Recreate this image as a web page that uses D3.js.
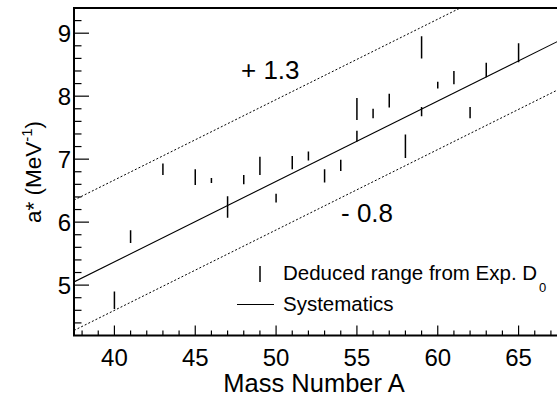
<!DOCTYPE html>
<html>
<head>
<meta charset="utf-8">
<script src="https://cdn.jsdelivr.net/npm/d3@7"></script>
<style>
    body { margin: 0; background: #fff; }
    text { font-family: "Liberation Sans", Arial, Helvetica, sans-serif; fill: #000; }
</style>
</head>
<body>
<div id="chart-area"></div>
<script>
// mass numbers and deduced a* ranges (MeV^-1)
const massA = [40, 41, 43, 45, 46, 47, 48, 49, 50, 51, 52, 53, 54, 55, 55, 56, 57, 58, 59, 59, 60, 61, 62, 63, 65];
const rangeLow = [4.62, 5.67, 6.75, 6.59, 6.62, 6.07, 6.60, 6.75, 6.31, 6.84, 6.98, 6.63, 6.81, 7.28, 7.62, 7.65, 7.82, 7.02, 7.68, 8.60, 8.12, 8.19, 7.65, 8.30, 8.54];
const rangeHigh = [4.90, 5.87, 6.93, 6.84, 6.70, 6.41, 6.75, 7.04, 6.45, 7.05, 7.12, 6.84, 6.99, 7.45, 7.97, 7.80, 8.04, 7.39, 7.83, 8.95, 8.23, 8.40, 7.83, 8.53, 8.84];

// systematics line end points and band offsets
const sysA = [37.5, 67.5];
const sysVal = [5.05, 8.88];
const upperOffset = 1.3;
const lowerOffset = -0.77;

const xTicks = [40, 45, 50, 55, 60, 65];
const yTicks = [5, 6, 7, 8, 9];

let margin = {top: 8, left: 74};
let width = 485, height = 327.5;

let svg = d3.select("#chart-area").append("svg")
    .attr("width", 557)
    .attr("height", 396);

let g = svg.append("g")
    .attr("transform", "translate(" + margin.left + "," + margin.top + ")");

let x = d3.scaleLinear().domain([37.5, 67.5]).range([0, width]);
let y = d3.scaleLinear().domain([4.2, 9.4]).range([height, 0]);

g.append("defs").append("clipPath")
    .attr("id", "clip")
    .append("rect")
    .attr("width", width)
    .attr("height", height);

let plot = g.append("g").attr("clip-path", "url(#clip)");

// systematics and band
let line = d3.line().x(d => x(d[0])).y(d => y(d[1]));
let sysPts = sysA.map((a, i) => [a, sysVal[i]]);

plot.append("path")
    .attr("d", line(sysPts))
    .attr("fill", "none")
    .attr("stroke", "#000")
    .attr("stroke-width", 1.1);

[upperOffset, lowerOffset].forEach(off => {
    plot.append("path")
        .attr("d", line(sysPts.map(p => [p[0], p[1] + off])))
        .attr("fill", "none")
        .attr("stroke", "#000")
        .attr("stroke-width", 1)
        .attr("stroke-dasharray", "2,2");
});

// deduced ranges
plot.selectAll(".range")
    .data(massA)
    .enter().append("line")
    .attr("class", "range")
    .attr("x1", d => x(d))
    .attr("x2", d => x(d))
    .attr("y1", (d, i) => y(rangeLow[i]))
    .attr("y2", (d, i) => y(rangeHigh[i]))
    .attr("stroke", "#000")
    .attr("stroke-width", 1.5);

// axes
let xMinor = d3.range(38, 68, 1);
let yMinor = d3.range(4.4, 9.41, 0.2);

g.append("g")
    .attr("transform", "translate(0," + height + ")")
    .selectAll("line")
    .data(xMinor)
    .enter().append("line")
    .attr("x1", d => x(d)).attr("x2", d => x(d))
    .attr("y1", 0)
    .attr("y2", d => d % 5 === 0 ? -10 : -5)
    .attr("stroke", "#000").attr("stroke-width", 1.2);

g.append("g")
    .selectAll("line")
    .data(yMinor)
    .enter().append("line")
    .attr("y1", d => y(d)).attr("y2", d => y(d))
    .attr("x1", 0)
    .attr("x2", d => Math.abs(d - Math.round(d)) < 0.01 ? 15 : 7.5)
    .attr("stroke", "#000").attr("stroke-width", 1.2);

// frame
g.append("path")
    .attr("d", "M" + x(67.5) + "," + y(9.4) + "H0V" + height + "H" + x(67.5))
    .attr("fill", "none")
    .attr("stroke", "#000")
    .attr("stroke-width", 2);

g.selectAll(".x-tick-label")
    .data(xTicks)
    .enter().append("text")
    .attr("class", "x-tick-label")
    .attr("x", d => x(d))
    .attr("y", height + 30)
    .attr("text-anchor", "middle")
    .style("font-size", "24px")
    .text(d => d);

g.selectAll(".y-tick-label")
    .data(yTicks)
    .enter().append("text")
    .attr("class", "y-tick-label")
    .attr("x", -3)
    .attr("y", d => y(d) + 8.5)
    .attr("text-anchor", "end")
    .style("font-size", "24px")
    .text(d => d);

// axis titles
svg.append("text")
    .attr("x", 314)
    .attr("y", 392)
    .attr("text-anchor", "middle")
    .style("font-size", "25.5px")
    .text("Mass Number A");

let yTitle = svg.append("text")
    .attr("transform", "translate(41,172) rotate(-90)")
    .attr("text-anchor", "middle")
    .style("font-size", "22.5px");
yTitle.append("tspan").text("a* (MeV");
yTitle.append("tspan").attr("dy", -9).style("font-size", "15px").text("-1");
yTitle.append("tspan").attr("dy", 9).text(")");

// band labels
svg.append("text")
    .attr("x", 241).attr("y", 79)
    .style("font-size", "26px")
    .text("+ 1.3");

svg.append("text")
    .attr("x", 341).attr("y", 222)
    .style("font-size", "26px")
    .text("- 0.8");

// legend
svg.append("line")
    .attr("x1", 260).attr("x2", 260)
    .attr("y1", 266).attr("y2", 282)
    .attr("stroke", "#000").attr("stroke-width", 1.5);

svg.append("line")
    .attr("x1", 237).attr("x2", 274)
    .attr("y1", 304.5).attr("y2", 304.5)
    .attr("stroke", "#000").attr("stroke-width", 1.1);

let leg1 = svg.append("text")
    .attr("x", 283).attr("y", 280)
    .style("font-size", "20.5px");
leg1.append("tspan").text("Deduced range from Exp. D");
leg1.append("tspan").attr("dy", 12).attr("dx", 2).style("font-size", "13px").text("0");

svg.append("text")
    .attr("x", 283).attr("y", 311)
    .style("font-size", "20.5px")
    .text("Systematics");
</script>
</body>
</html>
